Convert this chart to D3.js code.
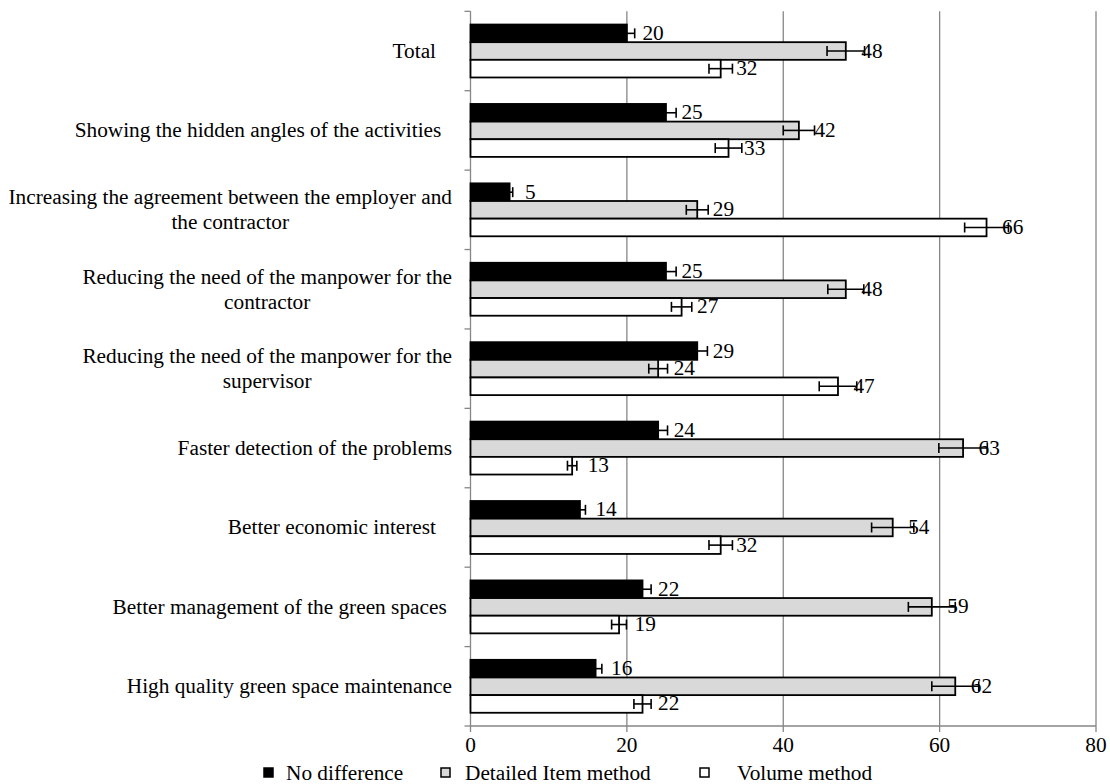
<!DOCTYPE html>
<html>
<head>
<meta charset="utf-8">
<script src="https://cdn.jsdelivr.net/npm/d3@7"></script>
<style>
  body { margin:0; background:#fff; }
  svg text { font-family:"Liberation Serif","Times New Roman",serif; white-space:pre; }
</style>
</head>
<body>
<svg id="board" width="1110" height="784"></svg>
<script>
  // chart data
  var categories = [
    "Total   ",
    "Showing the hidden angles of the activities  ",
    "Increasing the agreement between the employer and\nthe contractor",
    "Reducing the need of the manpower for the\ncontractor",
    "Reducing the need of the manpower for the\nsupervisor",
    "Faster detection of the problems",
    "Better economic interest   ",
    "Better management of the green spaces ",
    "High quality green space maintenance"
  ];
  var seriesNames = ["No difference", "Detailed Item method", "Volume method"];
  var noDiff   = [20, 25, 5, 25, 29, 24, 14, 22, 16];
  var detailed = [48, 42, 29, 48, 24, 63, 54, 59, 62];
  var volume   = [32, 33, 66, 27, 47, 13, 32, 19, 22];
  var noDiffErr   = [1.0, 1.3, 0.4, 1.3, 1.3, 1.2, 0.7, 1.1, 0.8];
  var detailedErr = [2.4, 2.0, 1.4, 2.3, 1.2, 3.1, 2.7, 3.0, 3.0];
  var volumeErr   = [1.5, 1.7, 2.8, 1.3, 2.4, 0.6, 1.5, 0.95, 1.1];
  var xTicks = [0, 20, 40, 60, 80];

  var fills = ["#000000", "#d9d9d9", "#ffffff"];
  var values = [noDiff, detailed, volume];
  var errs = [noDiffErr, detailedErr, volumeErr];

  var pLeft = 470.5, pRight = 1096, pTop = 11.3, pBottom = 726;
  var grid = "#868686";
  var fs = 21.3;

  var svg = d3.select("#board");

  var x = d3.scaleLinear().domain([0, 80]).range([pLeft, pRight]);
  var y0 = d3.scaleBand().domain(d3.range(categories.length)).range([pTop, pBottom])
    .paddingInner(1/3).paddingOuter(1/6);
  var y1 = d3.scaleBand().domain(d3.range(3)).range([0, y0.bandwidth()]);
  var step = y0.step();

  // gridlines
  svg.append("g").selectAll("line").data(xTicks.slice(1)).enter().append("line")
    .attr("x1", d => x(d)).attr("x2", d => x(d))
    .attr("y1", pTop).attr("y2", pBottom)
    .attr("stroke", grid).attr("stroke-width", 1.3);

  // axes
  svg.append("line").attr("x1", pLeft).attr("x2", pLeft).attr("y1", pTop).attr("y2", pBottom)
    .attr("stroke", grid).attr("stroke-width", 1.3);
  svg.append("line").attr("x1", pLeft).attr("x2", pRight).attr("y1", pBottom).attr("y2", pBottom)
    .attr("stroke", grid).attr("stroke-width", 1.3);
  svg.append("g").selectAll("line").data(d3.range(categories.length + 1)).enter().append("line")
    .attr("x1", pLeft - 6).attr("x2", pLeft)
    .attr("y1", d => pTop + d * step).attr("y2", d => pTop + d * step)
    .attr("stroke", grid).attr("stroke-width", 1.3);
  svg.append("g").selectAll("line").data(xTicks).enter().append("line")
    .attr("x1", d => x(d)).attr("x2", d => x(d))
    .attr("y1", pBottom).attr("y2", pBottom + 6)
    .attr("stroke", grid).attr("stroke-width", 1.3);
  svg.append("g").selectAll("text").data(xTicks).enter().append("text")
    .attr("x", d => x(d)).attr("y", pBottom + 26)
    .attr("text-anchor", "middle").attr("font-size", fs).attr("fill", "#000")
    .text(d => d);

  // bars
  var rows = [];
  for (var i = 0; i < categories.length; i++)
    for (var s = 0; s < 3; s++)
      rows.push({c: i, s: s, v: values[s][i], e: errs[s][i]});

  var g = svg.append("g");
  g.selectAll("rect").data(rows).enter().append("rect")
    .attr("x", x(0))
    .attr("y", d => y0(d.c) + y1(d.s))
    .attr("width", d => x(d.v) - x(0))
    .attr("height", y1.bandwidth())
    .attr("fill", d => fills[d.s])
    .attr("stroke", "#000").attr("stroke-width", 1.8);

  // data labels
  g.selectAll("text.val").data(rows).enter().append("text").attr("class", "val")
    .attr("x", d => x(d.v) + 15.5)
    .attr("y", d => y0(d.c) + y1(d.s) + y1.bandwidth() / 2 + 6.5)
    .attr("font-size", fs).attr("fill", "#000")
    .text(d => d.v);

  // error bars
  var eb = g.selectAll("g.err").data(rows).enter().append("g").attr("class", "err")
    .attr("stroke", "#000").attr("stroke-width", 1.6);
  eb.append("line")
    .attr("x1", d => x(d.v - d.e)).attr("x2", d => x(d.v + d.e))
    .attr("y1", d => y0(d.c) + y1(d.s) + y1.bandwidth() / 2)
    .attr("y2", d => y0(d.c) + y1(d.s) + y1.bandwidth() / 2);
  [-1, 1].forEach(function(k){
    eb.append("line")
      .attr("x1", d => x(d.v + k * d.e)).attr("x2", d => x(d.v + k * d.e))
      .attr("y1", d => y0(d.c) + y1(d.s) + y1.bandwidth() / 2 - 5)
      .attr("y2", d => y0(d.c) + y1(d.s) + y1.bandwidth() / 2 + 5);
  });

  // category labels
  categories.forEach(function(cat, i){
    var lines = cat.split("\n");
    var cy = y0(i) + y0.bandwidth() / 2;
    if (lines.length === 1) {
      svg.append("text").attr("x", 452).attr("y", cy + 7)
        .attr("text-anchor", "end").attr("font-size", fs).attr("fill", "#000")
        .text(cat);
    } else {
      var t = svg.append("text").attr("font-size", fs).attr("fill", "#000").attr("text-anchor", "middle");
      var spans = lines.map(function(l, j){
        return t.append("tspan").attr("y", cy + 7 + (j - (lines.length - 1) / 2) * 25).text(l);
      });
      var w = d3.max(spans, sp => sp.node().getComputedTextLength());
      spans.forEach(sp => sp.attr("x", 452 - w / 2));
    }
  });

  // legend
  var legX = [264, 441, 700];
  var legT = [286, 465, 737];
  var leg = svg.append("g");
  seriesNames.forEach(function(n, i){
    leg.append("rect").attr("x", legX[i]).attr("y", 768).attr("width", 9).attr("height", 9)
      .attr("fill", fills[i]).attr("stroke", "#000").attr("stroke-width", 1.5);
    leg.append("text").attr("x", legT[i]).attr("y", 780).attr("font-size", fs).attr("fill", "#000").text(n);
  });
</script>
</body>
</html>
